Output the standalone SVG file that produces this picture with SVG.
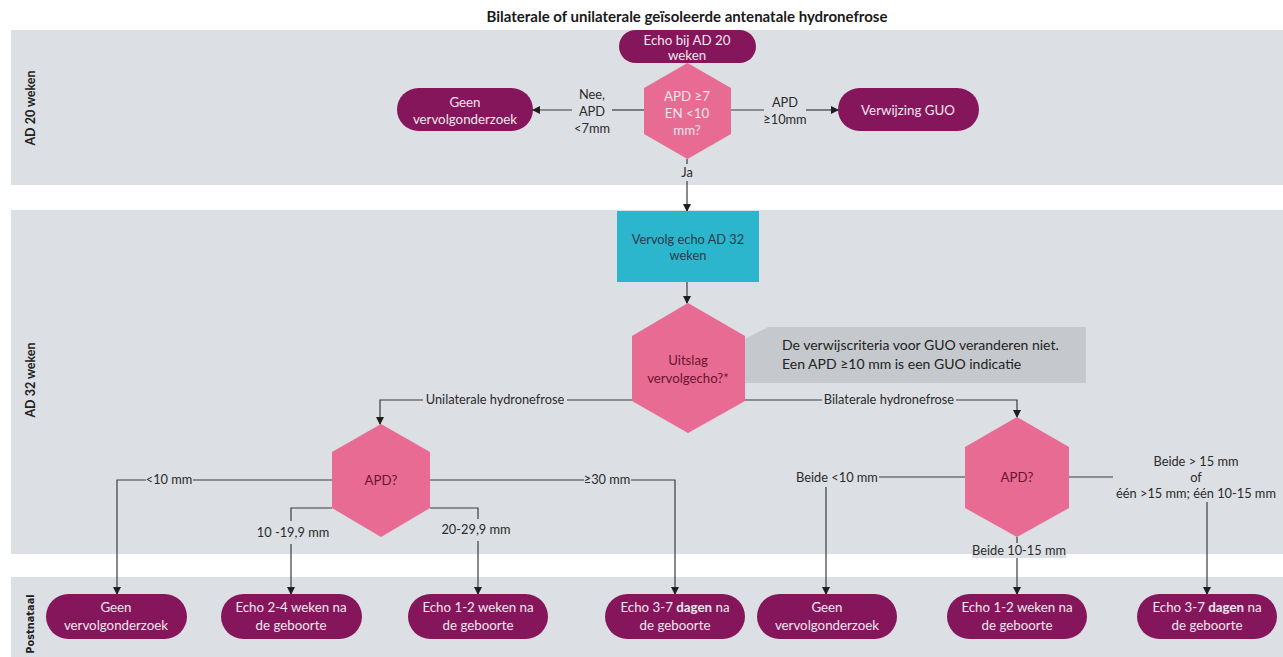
<svg xmlns="http://www.w3.org/2000/svg" width="1283" height="657" viewBox="0 0 1283 657">
<defs>
<style>
.band{fill:#dcdfe3}
.pill{fill:#86165b}
.hex{fill:#e86b93}
.lbl{font-family:Lato,"Open Sans",sans-serif;font-size:12.8px;fill:#2b2b2b;text-anchor:middle}
.pt{font-family:Lato,"Open Sans",sans-serif;font-size:13.3px;fill:#f2e6ee;text-anchor:middle}
.ht{font-family:Lato,"Open Sans",sans-serif;font-size:13.2px;fill:#6a1530;text-anchor:middle}
.bt{font-family:Lato,"Open Sans",sans-serif;font-size:12.5px;font-weight:bold;fill:#222;text-anchor:middle}
.con{fill:none;stroke:#3c3c3c;stroke-width:1.2}
</style>
<marker id="ah" markerWidth="8" markerHeight="8" refX="7" refY="4" orient="auto" markerUnits="userSpaceOnUse">
<path d="M0,0 L8,4 L0,8 Z" fill="#1e1e1e"/>
</marker>
</defs>
<rect width="1283" height="657" fill="#ffffff"/>
<g id="bands">
<rect class="band" x="11" y="30" width="1272" height="155"/>
<rect class="band" x="11" y="210" width="1272" height="344"/>
<rect class="band" x="11" y="577" width="1272" height="80"/>
<text class="bt" transform="translate(35,108) rotate(-90)">AD 20 weken</text>
<text class="bt" transform="translate(35,380) rotate(-90)">AD 32 weken</text>
<text transform="translate(34,624) rotate(-90)" font-family="'DejaVu Sans',sans-serif" font-size="9.8" font-weight="bold" fill="#222" text-anchor="middle">Postnataal</text>
</g>
<text x="687" y="22" font-family="Lato,'Open Sans',sans-serif" font-size="15" font-weight="bold" fill="#1a1a1a" text-anchor="middle">Bilaterale of unilaterale geïsoleerde antenatale hydronefrose</text>

<g id="connectors">
<path class="con" d="M644,110 H612"/>
<path class="con" d="M572,110 H533" marker-end="url(#ah)"/>
<path class="con" d="M731,110 H764"/>
<path class="con" d="M806,110 H838" marker-end="url(#ah)"/>
<path class="con" d="M687,159 V164"/>
<path class="con" d="M687,181 V211" marker-end="url(#ah)"/>
<path class="con" d="M687,282 V303" marker-end="url(#ah)"/>
<path class="con" d="M632,400 H567"/>
<path class="con" d="M423,400 H380 V424" marker-end="url(#ah)"/>
<path class="con" d="M744,400 H822"/>
<path class="con" d="M956,400 H1017 V417" marker-end="url(#ah)"/>
<path class="con" d="M332,480 H193"/>
<path class="con" d="M146,480 H117 V594" marker-end="url(#ah)"/>
<path class="con" d="M430,480 H584"/>
<path class="con" d="M631,480 H675 V594" marker-end="url(#ah)"/>
<path class="con" d="M332,508 H291 V521"/>
<path class="con" d="M291,544 V594" marker-end="url(#ah)"/>
<path class="con" d="M430,508 H478 V519"/>
<path class="con" d="M478,541 V594" marker-end="url(#ah)"/>
<path class="con" d="M965,477 H879"/>
<path class="con" d="M826,487 V594" marker-end="url(#ah)"/>
<path class="con" d="M1069,477 H1113"/>
<path class="con" d="M1207,502 V594" marker-end="url(#ah)"/>
<path class="con" d="M1017,537 V543"/>
<path class="con" d="M1017,558 V594" marker-end="url(#ah)"/>
<text class="lbl" x="592" y="99">Nee,</text>
<text class="lbl" x="592" y="116">APD</text>
<text class="lbl" x="592" y="133">&lt;7mm</text>
<text class="lbl" x="785" y="107">APD</text>
<text class="lbl" x="785" y="124">≥10mm</text>
<text class="lbl" x="687" y="177">Ja</text>
<text class="lbl" x="495" y="404">Unilaterale hydronefrose</text>
<text class="lbl" x="889" y="404">Bilaterale hydronefrose</text>
<text class="lbl" x="169" y="484">&lt;10 mm</text>
<text class="lbl" x="607" y="484">≥30 mm</text>
<text class="lbl" x="293" y="537">10 -19,9 mm</text>
<text class="lbl" x="476" y="534">20-29,9 mm</text>
<text class="lbl" x="837" y="482">Beide &lt;10 mm</text>
<text class="lbl" x="1196" y="466">Beide &gt; 15 mm</text>
<text class="lbl" x="1196" y="482">of</text>
<text class="lbl" x="1196" y="498">één &gt;15 mm; één 10-15 mm</text>
<rect x="972" y="543" width="94" height="15" fill="#dcdfe3"/>
<text class="lbl" x="1019" y="555">Beide 10-15 mm</text>
</g>

<g id="n-echo20">
<rect class="pill" x="619" y="30" width="137" height="33" rx="16.5"/>
<text class="pt" x="687" y="45">Echo bij AD 20</text>
<text class="pt" x="687" y="60">weken</text>
</g>
<g id="n-hex1">
<polygon class="hex" points="687.5,63 731,88 731,134 687.5,159 644,134 644,88"/>
<text class="pt" x="687" y="101">APD ≥7</text>
<text class="pt" x="687" y="118">EN &lt;10</text>
<text class="pt" x="687" y="135">mm?</text>
</g>
<g id="n-geen-top">
<rect class="pill" x="397" y="88" width="136" height="43" rx="21.5"/>
<text class="pt" x="465" y="107">Geen</text>
<text class="pt" x="465" y="124">vervolgonderzoek</text>
</g>
<g id="n-guo">
<rect class="pill" x="838" y="88" width="141" height="43" rx="21.5"/>
<text class="pt" x="908" y="115">Verwijzing GUO</text>
</g>
<g id="n-echo32">
<rect x="617" y="211" width="142" height="71" fill="#2bb6cd"/>
<text x="688" y="244" font-family="Lato,'Open Sans',sans-serif" font-size="12.8" fill="#2a3a48" text-anchor="middle">Vervolg echo AD 32</text>
<text x="688" y="260" font-family="Lato,'Open Sans',sans-serif" font-size="12.8" fill="#2a3a48" text-anchor="middle">weken</text>
</g>
<g id="n-uitslag">
<polygon class="hex" points="688,303 745,336 745,401 688,433 632,401 632,336"/>
<text class="ht" x="688" y="365">Uitslag</text>
<text class="ht" x="688" y="383">vervolgecho?*</text>
</g>
<g id="n-callout">
<polygon points="745,339 768,327 1086,327 1086,383 745,383" fill="#c5c9cd"/>
<text x="782" y="350" font-family="Lato,'Open Sans',sans-serif" font-size="14" fill="#222">De verwijscriteria voor GUO veranderen niet.</text>
<text x="782" y="369" font-family="Lato,'Open Sans',sans-serif" font-size="14" fill="#222">Een APD ≥10 mm is een GUO indicatie</text>
</g>
<g id="n-apd-uni">
<polygon class="hex" points="381,424 430,452 430,508 381,537 332,508 332,452"/>
<text class="ht" x="381" y="485">APD?</text>
</g>
<g id="n-apd-bi">
<polygon class="hex" points="1017,417 1069,447 1069,508 1017,537 965,508 965,447"/>
<text class="ht" x="1017" y="482">APD?</text>
</g>
<g id="n-p1">
<rect class="pill" x="46" y="594" width="141" height="45" rx="22.5"/>
<text class="pt" x="116" y="612">Geen</text>
<text class="pt" x="116" y="630">vervolgonderzoek</text>
</g>
<g id="n-p2">
<rect class="pill" x="221" y="594" width="141" height="45" rx="22.5"/>
<text class="pt" x="291" y="612">Echo 2-4 weken na</text>
<text class="pt" x="291" y="630">de geboorte</text>
</g>
<g id="n-p3">
<rect class="pill" x="408" y="594" width="140" height="45" rx="22.5"/>
<text class="pt" x="478" y="612">Echo 1-2 weken na</text>
<text class="pt" x="478" y="630">de geboorte</text>
</g>
<g id="n-p4">
<rect class="pill" x="605" y="594" width="140" height="45" rx="22.5"/>
<text class="pt" x="675" y="612">Echo 3-7 <tspan font-weight="bold">dagen</tspan> na</text>
<text class="pt" x="675" y="630">de geboorte</text>
</g>
<g id="n-p5">
<rect class="pill" x="757" y="594" width="140" height="45" rx="22.5"/>
<text class="pt" x="827" y="612">Geen</text>
<text class="pt" x="827" y="630">vervolgonderzoek</text>
</g>
<g id="n-p6">
<rect class="pill" x="947" y="594" width="140" height="45" rx="22.5"/>
<text class="pt" x="1017" y="612">Echo 1-2 weken na</text>
<text class="pt" x="1017" y="630">de geboorte</text>
</g>
<g id="n-p7">
<rect class="pill" x="1137" y="594" width="140" height="45" rx="22.5"/>
<text class="pt" x="1207" y="612">Echo 3-7 <tspan font-weight="bold">dagen</tspan> na</text>
<text class="pt" x="1207" y="630">de geboorte</text>
</g>
</svg>
